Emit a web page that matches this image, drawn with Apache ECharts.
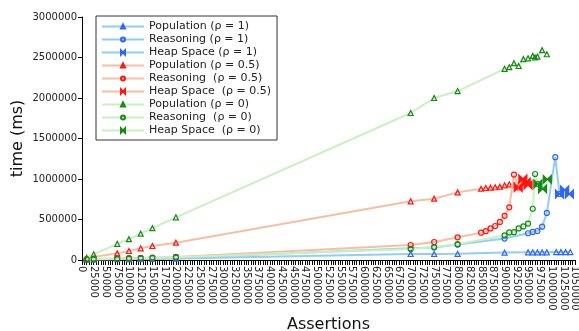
<!DOCTYPE html>
<html><head><meta charset="utf-8">
<script src="https://cdn.jsdelivr.net/npm/echarts@6/dist/echarts.min.js"></script>
<style>html,body{margin:0;padding:0;background:#fff}#c{width:579px;height:331px}</style>
</head><body><div id="c"></div>
<script>
// ---- data (x = assertions, y = time in ms) ----
const pop1X = [10000, 25000, 75000, 100000, 125000, 150000, 200000, 700000, 750000, 800000, 900000, 950000, 960000, 970000, 980000, 990000, 1010000, 1020000, 1030000, 1040000];
const pop1Y = [5000, 8000, 10000, 12000, 14000, 15000, 18000, 74000, 74000, 76000, 92000, 95000, 95000, 95000, 95000, 95000, 98000, 98000, 98000, 98000];
const reas1X = [10000, 25000, 75000, 100000, 125000, 150000, 200000, 700000, 750000, 800000, 900000, 950000, 960000, 970000, 980000, 990000, 1008000, 1017000];
const reas1Y = [5000, 8000, 12000, 15000, 18000, 20000, 25000, 145000, 155000, 190000, 265000, 330000, 346000, 358000, 411000, 581000, 1270000, 815000];
const heap1X = [1017000, 1028000, 1038000];
const heap1Y = [815000, 865000, 815000];

const pop05X = [10000, 25000, 75000, 100000, 125000, 150000, 200000, 700000, 750000, 800000, 850000, 860000, 870000, 880000, 890000, 900000, 910000, 920000, 930000];
const pop05Y = [15000, 38000, 82000, 111000, 144000, 173000, 214000, 725000, 757000, 835000, 880000, 889000, 893000, 898000, 905000, 922000, 934000, 930000, 935000];
const reas05X = [10000, 25000, 75000, 100000, 125000, 150000, 200000, 700000, 750000, 800000, 850000, 860000, 870000, 880000, 890000, 900000, 910000, 920000, 929000];
const reas05Y = [10000, 12000, 18000, 22000, 26000, 30000, 38000, 185000, 222000, 280000, 337000, 356000, 390000, 420000, 470000, 545000, 650000, 1055000, 895000];
const heap05X = [929000, 939000, 946000, 950000];
const heap05Y = [895000, 1000000, 962000, 926000];

const pop0X = [10000, 25000, 75000, 100000, 125000, 150000, 200000, 700000, 750000, 800000, 900000, 910000, 920000, 930000, 940000, 950000, 960000, 965000, 970000, 980000, 990000];
const pop0Y = [28000, 70000, 200000, 257000, 325000, 393000, 527000, 1815000, 2000000, 2086000, 2360000, 2380000, 2430000, 2395000, 2480000, 2490000, 2520000, 2500000, 2510000, 2590000, 2540000];
const reas0X = [10000, 25000, 75000, 100000, 125000, 150000, 200000, 700000, 750000, 800000, 900000, 910000, 920000, 930000, 940000, 950000, 960000, 965000, 971000];
const reas0Y = [8000, 10000, 16000, 20000, 24000, 28000, 35000, 135000, 160000, 195000, 303000, 340000, 343000, 390000, 415000, 450000, 633000, 1062000, 938000];
const heap0X = [971000, 981000, 991000];
const heap0Y = [938000, 878000, 996000];

const xTickStep = 25000;
const yTickStep = 500000;

const seriesNames = [
  'Population (ρ = 1)', 'Reasoning (ρ = 1)', 'Heap Space (ρ = 1)',
  'Population (ρ = 0.5)', 'Reasoning  (ρ = 0.5)', 'Heap Space  (ρ = 0.5)',
  'Population (ρ = 0)', 'Reasoning  (ρ = 0)', 'Heap Space  (ρ = 0)'
];

// ---- styling ----
const zip = (xs, ys) => xs.map((x, i) => [x, ys[i]]);
const bowtie = 'path://M0,0L10,10L10,0L0,10Z';
const groups = [
  {line: '#92cdf5', mark: '#2f66f2'},
  {line: '#f6bfa3', mark: '#ff1414'},
  {line: '#c9f0c0', mark: '#168a16'}
];
const dataSets = [
  [pop1X, pop1Y], [reas1X, reas1Y], [heap1X, heap1Y],
  [pop05X, pop05Y], [reas05X, reas05Y], [heap05X, heap05Y],
  [pop0X, pop0Y], [reas0X, reas0Y], [heap0X, heap0Y]
];
const kinds = ['triangle', 'circle', bowtie];

const series = dataSets.map((d, i) => {
  const g = groups[Math.floor(i / 3)];
  const k = i % 3;
  return {
    name: seriesNames[i],
    type: 'line',
    data: zip(d[0], d[1]),
    symbol: kinds[k],
    symbolSize: k === 2 ? [8, 8] : 5,
    showAllSymbol: true,
    lineStyle: {color: g.line, width: 2},
    itemStyle: {color: k === 2 ? g.mark : 'rgba(255,255,255,0)', borderColor: g.mark, borderWidth: 1.2},
    emphasis: {disabled: true},
    z: 2 + i
  };
});

const plain = v => String(v);

const chart = echarts.init(document.getElementById('c'), null, {renderer: 'canvas'});
chart.setOption({
  animation: false,
  backgroundColor: '#fff',
  textStyle: {fontFamily: 'DejaVu Sans'},
  grid: {left: 82, right: 4, top: 17, bottom: 71, containLabel: false, outerBoundsMode: 'none'},
  legend: {
    orient: 'vertical',
    left: 96, top: 16,
    padding: [4, 6, 3, 5],
    itemWidth: 42, itemHeight: 5, itemGap: 0,
    backgroundColor: '#fff',
    borderColor: '#333', borderWidth: 1,
    textStyle: {fontSize: 11, color: '#222', lineHeight: 13, fontFamily: 'DejaVu Sans'},
    data: seriesNames
  },
  xAxis: {
    type: 'value', min: 0, max: 1050000, interval: xTickStep,
    name: 'Assertions', nameLocation: 'middle', nameGap: 57, nameMoveOverlap: false,
    nameTextStyle: {fontSize: 16, color: '#111', fontFamily: 'DejaVu Sans'},
    axisLine: {show: true, lineStyle: {color: '#000', width: 1}},
    axisTick: {show: true, length: 5, lineStyle: {color: '#000'}},
    minorTick: {show: true, splitNumber: 5, length: 5, lineStyle: {color: '#000'}},
    axisLabel: {rotate: -90, fontSize: 10, color: '#222', margin: 6, hideOverlap: false, formatter: plain},
    splitLine: {show: false}
  },
  yAxis: {
    type: 'value', min: 0, max: 3000000, interval: yTickStep,
    name: 'time (ms)', nameLocation: 'middle', nameGap: 56, nameMoveOverlap: false,
    nameTextStyle: {fontSize: 16, color: '#111', fontFamily: 'DejaVu Sans'},
    axisLine: {show: true, lineStyle: {color: '#000', width: 1}},
    axisTick: {show: true, length: 4, lineStyle: {color: '#000'}},
    axisLabel: {fontSize: 10, color: '#222', margin: 5, formatter: plain},
    splitLine: {show: false}
  },
  series: series
});
</script></body></html>
